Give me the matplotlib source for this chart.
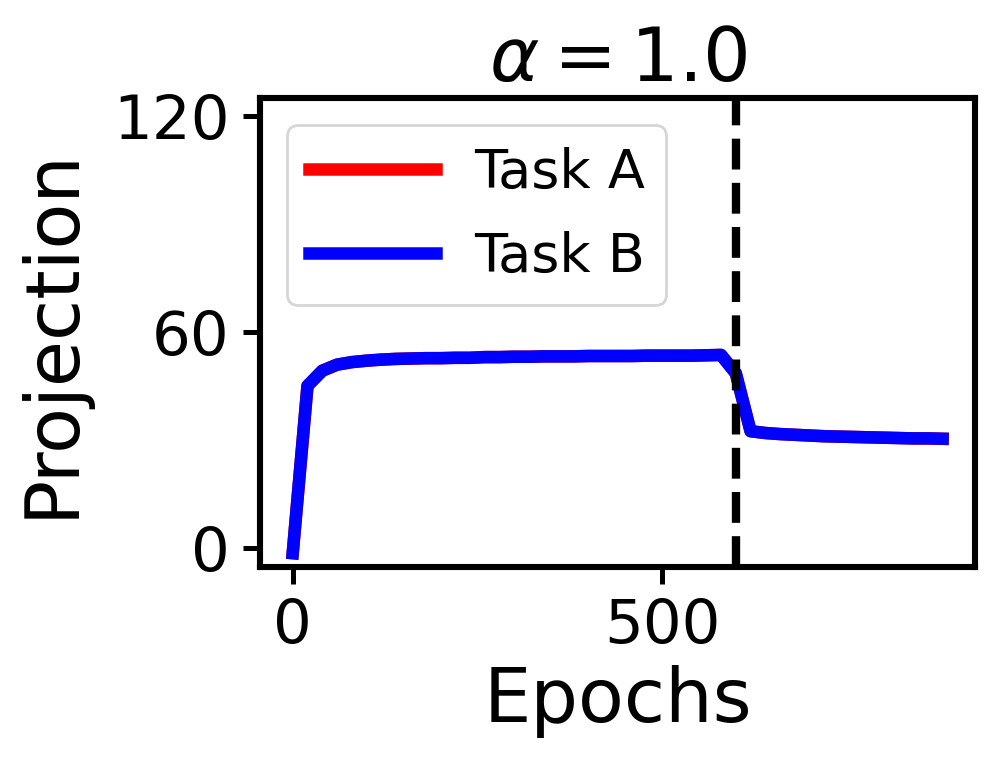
import matplotlib
matplotlib.use('Agg')
import matplotlib.pyplot as plt

# epochs (one point every 20 epochs), task switch at 600
epochs = [0, 20, 40, 60, 80, 100, 120, 140, 160, 180, 200, 220, 240, 260, 280,
          300, 320, 340, 360, 380, 400, 420, 440, 460, 480, 500, 520, 540, 560,
          580, 600, 620, 640, 660, 680, 700, 720, 740, 760, 780, 800, 820, 840,
          860, 880]
switch_epoch = 600

proj_b = [-1.5, 45.0, 49.2, 50.9, 51.6, 52.0, 52.3, 52.5, 52.6, 52.7, 52.7,
          52.8, 52.8, 53.0, 53.0, 53.1, 53.1, 53.2, 53.2, 53.2, 53.3, 53.3,
          53.3, 53.3, 53.4, 53.4, 53.4, 53.4, 53.5, 53.6, 48.5, 32.4, 31.9,
          31.6, 31.4, 31.2, 31.0, 30.9, 30.8, 30.7, 30.6, 30.5, 30.4, 30.4, 30.3]
# task A lies under task B in the picture
proj_a = list(proj_b)

yticks = [0, 60, 120]
xticks = [0, 500]

fig = plt.figure(figsize=(4.985, 3.83), dpi=200)
ax = fig.add_axes([0.261, 0.26, 0.717, 0.612])

ax.plot(epochs, proj_a, color='red', lw=4.5, label='Task A')
ax.plot(epochs, proj_b, color='blue', lw=4.5, label='Task B')
ax.axvline(switch_epoch, color='black', ls='--', lw=3)

ax.set_ylim(-5.3, 125)
ax.set_yticks(yticks)
ax.set_xticks(xticks)
ax.tick_params(labelsize=22, width=1.8, length=6, pad=5)
for s in ax.spines.values():
    s.set_linewidth(2.2)

ax.set_title(r'$\alpha = 1.0$', fontsize=27)
ax.set_xlabel('Epochs', fontsize=27, labelpad=3)
ax.set_ylabel('Projection', fontsize=27, labelpad=9)
ax.legend(loc='upper left', fontsize=19.5, handlelength=2.34,
          handletextpad=0.7, labelspacing=0.6)

plt.savefig('out.png', dpi=200)
